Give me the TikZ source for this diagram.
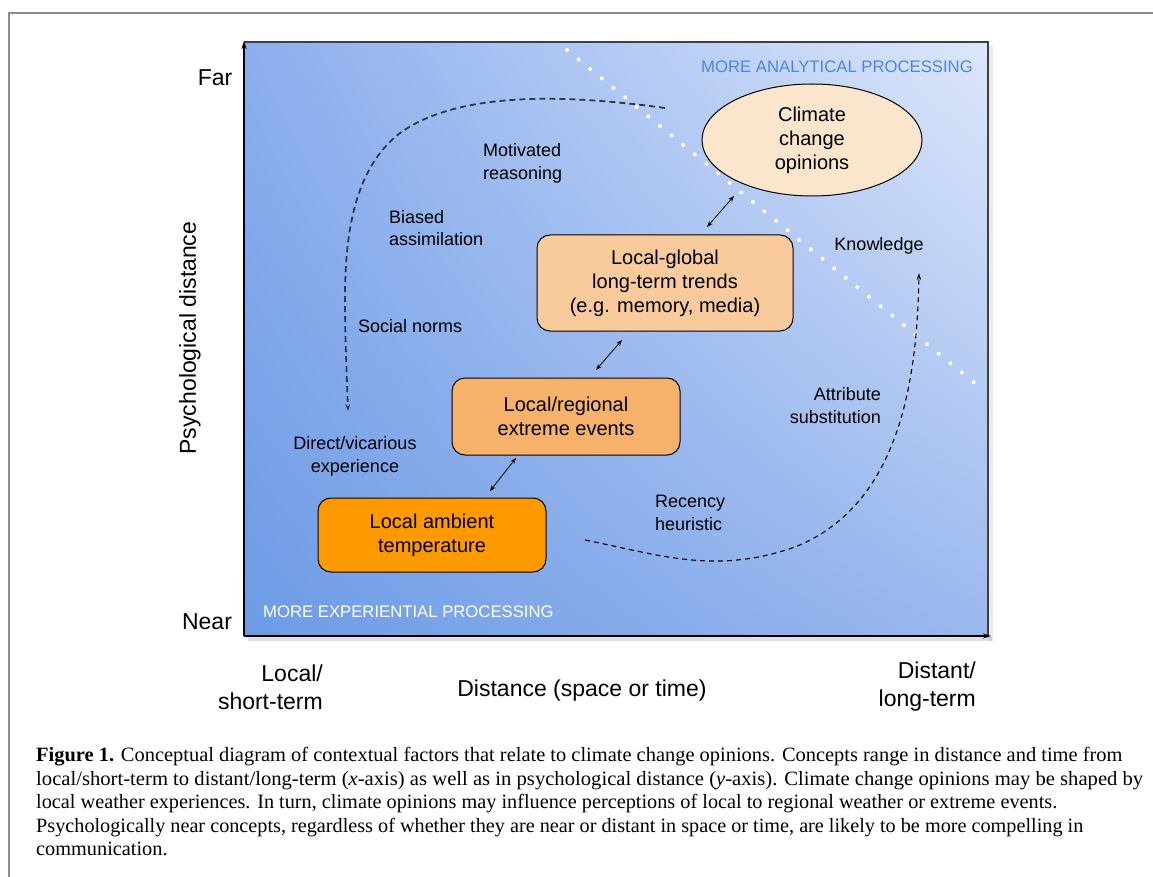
\documentclass[tikz,border=0pt]{standalone}
\usepackage{fontspec}
\usepackage{graphicx}
\setmainfont{Liberation Sans}
\newfontfamily\capfont{Liberation Serif}
\usetikzlibrary{shapes.geometric,arrows.meta,shadings}
\definecolor{bgLL}{HTML}{6D9BE6}
\definecolor{bgUL}{HTML}{8CAEEE}
\definecolor{bgUR}{HTML}{DDE7FA}
\definecolor{bgLR}{HTML}{9BB8EF}
\definecolor{ellfill}{HTML}{FCE5CD}
\definecolor{boxA}{HTML}{F9CB9C}
\definecolor{boxB}{HTML}{F6B26B}
\definecolor{boxC}{HTML}{FF9900}
\definecolor{anablue}{HTML}{4A86E8}
\definecolor{curvegray}{HTML}{2B3850}
\definecolor{framegray}{HTML}{8C8C8C}
\newcommand{\fitto}[2]{\resizebox{#1}{\height}{#2}}
\tikzset{
  lbl/.style={font=\fontsize{18}{22.7}\selectfont, inner sep=0pt},
  axlbl/.style={font=\fontsize{23}{28}\selectfont, inner sep=0pt},
  concept/.style={draw=black, line width=1pt, rounded corners=13pt, font=\fontsize{20}{24}\selectfont, align=center, inner sep=0pt},
  twoway/.style={{Stealth[length=6pt,width=4.5pt]}-{Stealth[length=6pt,width=4.5pt]}, line width=0.8pt},
  flowcurve/.style={curvegray, line width=1.8pt, dash pattern=on 6pt off 4pt, -{Stealth[length=7pt,width=5pt]}},
  capline/.style={anchor=base west, inner sep=0pt, font=\capfont\fontsize{20.3}{23.5}\selectfont},
}
\begin{document}
\begin{tikzpicture}[x=1pt,y=-1pt]
\useasboundingbox (0,0) rectangle (1153,877);
\fill[white] (0,0) rectangle (1153,877);
% outer frame
\draw[framegray, line width=1.5pt] (9,877) -- (9,13) -- (1153,13);
% shadow
\fill[black, opacity=0.12] (248,637) rectangle (992,641);
\fill[black, opacity=0.08] (989,46) rectangle (993,641);
% plot background
\shade[upper left=bgUL, upper right=bgUR, lower left=bgLL, lower right=bgLR] (244,42) rectangle (988,636);
\draw[black!75, line width=1.2pt] (244,42) -- (988,42) -- (988,636);
% axes
\coordinate (orig) at (244,636);
\coordinate (ytop) at (244,41);
\coordinate (xend) at (991,636);
\draw[line width=1.4pt, -{Stealth[length=8pt,width=5pt]}] (orig) -- (ytop);
\draw[line width=1.4pt, -{Stealth[length=8pt,width=5pt]}] (orig) -- (xend);
% dotted separator
\coordinate (dotA) at (567,50);
\coordinate (dotB) at (977,385);
\draw[white, line width=4pt, line cap=round, dash pattern=on 0pt off 15pt] (dotA) -- (dotB);
% region labels
\node[anchor=east, text=anablue, font=\fontsize{16.7}{20}\selectfont, inner sep=0pt] (ana) at (973,67) {MORE ANALYTICAL PROCESSING};
\node[anchor=west, text=white, font=\fontsize{16.7}{20}\selectfont, inner sep=0pt] (exp) at (263,612) {MORE EXPERIENTIAL PROCESSING};
% axis labels
\node[axlbl] (far) at (215,78) {Far};
\node[axlbl] (near) at (207,622) {Near};
\node[axlbl, rotate=90] (psy) at (190,338) {Psychological distance};
\node[axlbl, align=right, anchor=east] (loc) at (323,687) {Local/\\short-term};
\node[axlbl] (dist) at (582,691) {Distance (space or time)};
\node[axlbl, align=right, anchor=east] (dst) at (976,687) {Distant/\\long-term};
% concepts
\node[draw=black, line width=1pt, ellipse, fill=ellfill, minimum width=220pt, minimum height=112pt, font=\fontsize{20}{24}\selectfont, align=center, inner sep=0pt] (ccop) at (812,140) {Climate\\change\\opinions};
\node[concept, fill=boxA, minimum width=256pt, minimum height=96pt] (trends) at (665,283) {Local-global\\long-term trends\\(e.g. memory, media)};
\node[concept, fill=boxB, minimum width=228pt, minimum height=77pt] (extreme) at (566,416.5) {Local/regional\\extreme events};
\node[concept, fill=boxC, minimum width=228pt, minimum height=74pt] (ambient) at (432,535) {Local ambient\\temperature};
% two-way arrows
\coordinate (a1) at (707,227); \coordinate (b1) at (734,196);
\coordinate (a2) at (596,370); \coordinate (b2) at (622,340);
\coordinate (a3) at (490,491); \coordinate (b3) at (516,458);
\draw[twoway] (a1) -- (b1);
\draw[twoway] (a2) -- (b2);
\draw[twoway] (a3) -- (b3);
% process curves
\coordinate (lc0) at (665,108);
\coordinate (lc1) at (348,411);
\draw[flowcurve] (lc0) .. controls (570,95) and (460,90) .. (400,133)
  .. controls (352,170) and (345,240) .. (345,300)
  .. controls (345,340) and (347,380) .. (lc1);
\coordinate (rc0) at (585,540);
\coordinate (rc1) at (919,273);
\draw[black, line width=1.1pt, dash pattern=on 5pt off 4pt, -{Stealth[length=7pt,width=4.5pt]}] (rc0) .. controls (660,555) and (715,575) .. (795,547)
  .. controls (900,505) and (917,380) .. (rc1);
% process labels
\node[lbl, anchor=west, align=left] (mot) at (483,163) {Motivated\\reasoning};
\node[lbl, anchor=west, align=left] (bia) at (389,228) {Biased\\assimilation};
\node[lbl, anchor=west] (soc) at (358,326) {Social norms};
\node[lbl, align=center] (dir) at (355,456.5) {Direct/vicarious\\experience};
\node[lbl, anchor=west, align=left] (rec) at (655,513) {Recency\\heuristic};
\node[lbl, anchor=east, align=right] (att) at (881,405.5) {Attribute\\substitution};
\node[lbl] (kno) at (879,246) {Knowledge};
% caption
\node[capline] (c1) at (36,761.5) {\fitto{1086pt}{\textbf{Figure 1.} Conceptual diagram of contextual factors that relate to climate change opinions. Concepts range in distance and time from}};
\node[capline] (c2) at (36,785) {\fitto{1107pt}{local/short-term to distant/long-term (\textit{x}-axis) as well as in psychological distance (\textit{y}-axis). Climate change opinions may be shaped by}};
\node[capline] (c3) at (36,808.5) {\fitto{1021pt}{local weather experiences. In turn, climate opinions may influence perceptions of local to regional weather or extreme events.}};
\node[capline] (c4) at (36,832) {\fitto{1047pt}{Psychologically near concepts, regardless of whether they are near or distant in space or time, are likely to be more compelling in}};
\node[capline] (c5) at (36,855.5) {communication.};
\end{tikzpicture}
\end{document}
